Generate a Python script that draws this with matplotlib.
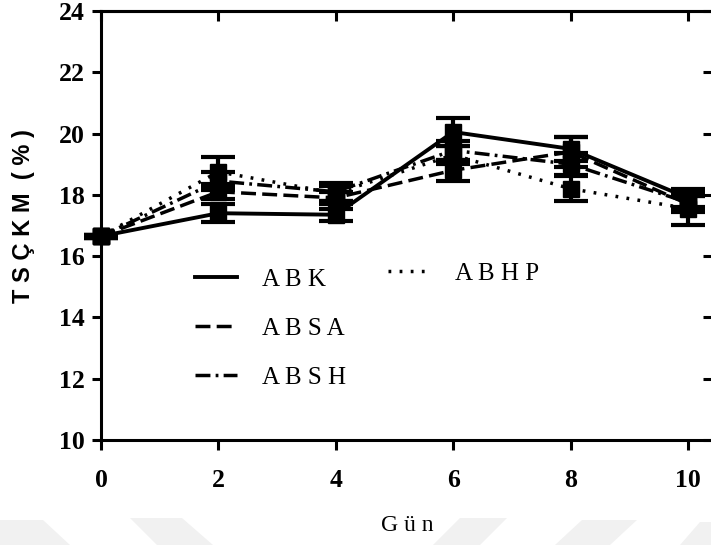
"""TSÇKM (%) by storage day for four formulations, with SD error bars."""

import matplotlib

matplotlib.use("Agg")

import matplotlib.pyplot as plt
from matplotlib.lines import Line2D
from matplotlib.patches import Polygon

days = [0, 2, 4, 6, 8, 10]

abk = [16.65, 17.40, 17.35, 20.05, 19.50, 17.90]
abk_sd = [0.05, 0.30, 0.20, 0.45, 0.40, 0.30]

absa = [16.65, 18.10, 17.90, 18.80, 19.40, 17.70]
absa_sd = [0.05, 0.25, 0.20, 0.35, 0.50, 0.25]

absh = [16.65, 18.45, 18.10, 19.45, 19.00, 17.75]
absh_sd = [0.05, 0.30, 0.30, 0.30, 0.35, 0.20]

abhp = [16.65, 18.75, 18.05, 19.30, 18.20, 17.55]
abhp_sd = [0.05, 0.50, 0.25, 0.30, 0.40, 0.55]

yticks = [10, 12, 14, 16, 18, 20, 22, 24]

SERIF = "Liberation Serif"
SANS = "Liberation Sans"
SPINE_W = 2.2

styles = {
    "A B K": dict(ls="-", lw=2.8),
    "A B S A": dict(ls=(0, (4.3, 1.8)), lw=2.5),
    "A B S H": dict(ls=(0, (4.3, 1.5, 0.8, 1.5)), lw=2.5),
    "A B H P": dict(ls=(0, (0.8, 2.4)), lw=2.5),
}
series = [
    ("A B K", abk, abk_sd),
    ("A B S A", absa, absa_sd),
    ("A B S H", absh, absh_sd),
    ("A B H P", abhp, abhp_sd),
]

fig = plt.figure(figsize=(7.11, 5.45), dpi=100)
ax = fig.add_axes([0.142, 0.1927, 0.861, 0.7872])

# faint background chevrons along the bottom edge
W, H = 711, 545
chevrons = [
    [(0, 520), (43, 520), (70, 545), (0, 545)],
    [(130, 518), (182, 518), (213, 545), (157, 545)],
    [(460, 518), (507, 518), (480, 545), (433, 545)],
    [(582, 520), (637, 520), (610, 545), (555, 545)],
    [(700, 522), (711, 522), (711, 545), (680, 545)],
]
for pts in chevrons:
    fig.patches.append(Polygon([(x / W, 1 - y / H) for x, y in pts], closed=True,
                               transform=fig.transFigure, facecolor="#f1f1f1",
                               edgecolor="none", zorder=0))

for name, vals, sd in series:
    st = styles[name]
    ax.errorbar(days, vals, yerr=sd, color="black", ls=st["ls"], lw=st["lw"],
                marker="s", ms=11, mfc="black", mec="black",
                ecolor="black", elinewidth=3, capsize=12, capthick=3,
                clip_on=False, zorder=3)

ax.set_xlim(0, 10.43)
ax.set_ylim(10, 24)
ax.set_xticks(days)
ax.set_yticks(yticks)

for side in ax.spines.values():
    side.set_linewidth(SPINE_W)

ax.tick_params(axis="x", direction="out", length=7, width=SPINE_W, pad=14)
ax.tick_params(axis="y", direction="out", length=6.5, width=SPINE_W, pad=5)
for lab in ax.get_xticklabels() + ax.get_yticklabels():
    lab.set_fontfamily(SERIF)
    lab.set_fontweight("bold")
    lab.set_fontsize(18.5)

top = ax.secondary_xaxis("top")
top.set_xticks(days)
top.tick_params(axis="x", direction="in", length=7, width=SPINE_W, labeltop=False)
top.spines["top"].set_linewidth(SPINE_W)

right = ax.secondary_yaxis("right")
right.set_yticks(yticks)
right.tick_params(axis="y", direction="in", length=7, width=SPINE_W, labelright=False)
right.spines["right"].set_linewidth(SPINE_W)

ax.set_xlabel("G ü n", fontfamily=SERIF, fontsize=17)
ax.xaxis.set_label_coords(0.5, -0.174)
ax.set_ylabel("T S Ç K M  ( % )", fontfamily=SANS, fontweight="bold", fontsize=17)
ax.yaxis.set_label_coords(-0.108, 0.521)

handles = {name: Line2D([], [], color="black", ls=st["ls"], lw=st["lw"])
           for name, st in styles.items()}
leg_kw = dict(frameon=False, loc="upper left", borderpad=0, borderaxespad=0,
              handlelength=1.67, handletextpad=1.0,
              prop={"family": SERIF, "size": 18})

left_names = ["A B K", "A B S A", "A B S H"]
leg1 = ax.legend([handles[n] for n in left_names], left_names,
                 bbox_to_anchor=(195 / W, 1 - 268 / H),
                 bbox_transform=fig.transFigure, labelspacing=1.07, **leg_kw)
ax.add_artist(leg1)
ax.legend([handles["A B H P"]], ["A B H P"],
          bbox_to_anchor=(388 / W, 1 - 262 / H),
          bbox_transform=fig.transFigure, **leg_kw)

fig.savefig("out.png", dpi=100)
